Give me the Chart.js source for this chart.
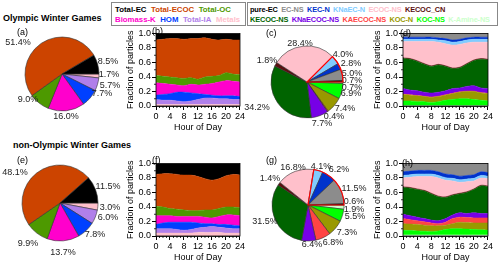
<!DOCTYPE html>
<html>
<head>
<meta charset="utf-8">
<script src="https://cdn.jsdelivr.net/npm/chart.js@4.4.1/dist/chart.umd.min.js"></script>
<style>
  body { margin: 0; width: 500px; height: 267px; position: relative; overflow: hidden; background: #fff;
         font-family: "Liberation Sans", Arial, sans-serif; }
  canvas { position: absolute; }
  .txt { position: absolute; white-space: nowrap; color: #000; }
  .head { font-weight: bold; font-size: 9px; }
  .tag { font-size: 9px; }
  .legend { position: absolute; border: 1px solid #888; background: #fff; font-weight: bold; font-size: 7.8px;
            box-sizing: border-box; padding: 2px 3px; line-height: 9.6px; }
  .legend .row { display: flex; gap: 4.5px; white-space: nowrap; }
  #legClasses { font-size: 7.4px; letter-spacing: -0.15px; padding: 2px 2px; }
  #legClasses .row { gap: 3.5px; }
</style>
</head>
<body>
<div class="txt head" style="left:3px;top:13px">Olympic Winter Games</div>
<div class="txt head" style="left:13px;top:140px">non-Olympic Winter Games</div>
<div class="legend" id="legGroups" style="left:111px;top:2px;width:135px;height:24px"></div>
<div class="legend" id="legClasses" style="left:247px;top:2px;width:251px;height:24px"></div>

<canvas id="pieA"></canvas>
<canvas id="pieE"></canvas>
<canvas id="pieC"></canvas>
<canvas id="pieG"></canvas>
<canvas id="areaB"></canvas>
<canvas id="areaF"></canvas>
<canvas id="areaD"></canvas>
<canvas id="areaH"></canvas>

<div class="txt tag" style="left:17px;top:27px">(a)</div>
<div class="txt tag" style="left:152px;top:26px">(b)</div>
<div class="txt tag" style="left:266px;top:28px">(c)</div>
<div class="txt tag" style="left:400px;top:28px">(d)</div>
<div class="txt tag" style="left:17px;top:155px">(e)</div>
<div class="txt tag" style="left:152px;top:155px">(f)</div>
<div class="txt tag" style="left:266px;top:155px">(g)</div>
<div class="txt tag" style="left:402px;top:158px">(h)</div>

<script>
// particle groups (legend order = counter-clockwise from 3 o'clock in the pies)
const groupNames = ['Total-EC', 'Total-ECOC', 'Total-OC', 'Biomass-K', 'HOM', 'Total-IA', 'Metals'];
const groupColors = ['#000000', '#cc4400', '#4d9900', '#ff00cc', '#0040ff', '#b07fea', '#ffc0cb'];

// particle classes
const classNames = ['pure-EC', 'EC-NS', 'KEC-N', 'KNaEC-N', 'ECOC-NS', 'KECOC_CN',
                    'KECOC-NS', 'KNaECOC-NS', 'KAECOC-NS', 'KOC-N', 'KOC-NS', 'K-Amine-NS'];
const classColors = ['#000000', '#8c8c8c', '#0033cc', '#80ccff', '#ffc0cb', '#5c0f0f',
                     '#006400', '#7700e6', '#ff4444', '#999900', '#00ff00', '#ccffcc'];

// pie percentages
const groupPieOlympic = [8.5, 51.4, 9.0, 16.0, 7.7, 5.7, 1.7];
const groupPieNonOlympic = [11.5, 48.1, 9.9, 13.7, 7.8, 6.0, 3.0];
const classPieOlympic = [0.7, 5.0, 2.8, 4.0, 28.4, 1.8, 34.2, 7.7, 0.4, 7.4, 6.9, 0.7];
const classPieNonOlympic = [0.6, 11.5, 6.2, 4.1, 16.8, 1.4, 31.5, 6.4, 6.8, 7.3, 5.5, 1.9];

// hour of day
const hours = [0, 2, 4, 6, 8, 10, 12, 14, 16, 18, 20, 22, 24];

// diurnal fractions, one row per group (same order as groupNames)
const groupDiurnalOlympic = [
  [0.09, 0.08, 0.07, 0.07, 0.08, 0.07, 0.07, 0.06, 0.08, 0.09, 0.08, 0.09, 0.09], // Total-EC
  [0.49, 0.51, 0.53, 0.54, 0.54, 0.54, 0.56, 0.54, 0.51, 0.49, 0.46, 0.47, 0.48], // Total-ECOC
  [0.10, 0.10, 0.10, 0.10, 0.10, 0.09, 0.08, 0.10, 0.10, 0.09, 0.11, 0.10, 0.10], // Total-OC
  [0.17, 0.15, 0.13, 0.10, 0.09, 0.12, 0.12, 0.14, 0.16, 0.19, 0.21, 0.20, 0.20], // Biomass-K
  [0.06, 0.08, 0.09, 0.12, 0.13, 0.11, 0.08, 0.05, 0.04, 0.04, 0.04, 0.05, 0.04], // HOM
  [0.07, 0.06, 0.06, 0.05, 0.04, 0.05, 0.07, 0.09, 0.09, 0.08, 0.08, 0.07, 0.07], // Total-IA
  [0.02, 0.02, 0.02, 0.02, 0.02, 0.02, 0.02, 0.02, 0.02, 0.02, 0.02, 0.02, 0.02]  // Metals
];
const groupDiurnalNonOlympic = [
  [0.15, 0.14, 0.14, 0.15, 0.16, 0.16, 0.18, 0.21, 0.23, 0.21, 0.17, 0.15, 0.16],
  [0.44, 0.46, 0.48, 0.48, 0.48, 0.49, 0.47, 0.43, 0.41, 0.41, 0.43, 0.45, 0.45],
  [0.13, 0.12, 0.10, 0.10, 0.09, 0.08, 0.08, 0.10, 0.11, 0.11, 0.11, 0.11, 0.11],
  [0.12, 0.10, 0.09, 0.08, 0.08, 0.08, 0.09, 0.09, 0.08, 0.11, 0.13, 0.14, 0.14],
  [0.06, 0.08, 0.09, 0.10, 0.11, 0.10, 0.07, 0.05, 0.04, 0.04, 0.05, 0.05, 0.04],
  [0.06, 0.06, 0.06, 0.05, 0.04, 0.05, 0.06, 0.07, 0.08, 0.07, 0.07, 0.06, 0.06],
  [0.04, 0.04, 0.04, 0.04, 0.04, 0.04, 0.05, 0.05, 0.05, 0.05, 0.04, 0.04, 0.04]
];

// diurnal fractions, one row per class (same order as classNames)
const classDiurnalOlympic = [
  [0.005, 0.005, 0.005, 0.005, 0.005, 0.005, 0.005, 0.005, 0.005, 0.005, 0.005, 0.005, 0.005],
  [0.045, 0.045, 0.045, 0.045, 0.045, 0.055, 0.065, 0.085, 0.075, 0.055, 0.045, 0.045, 0.045],
  [0.03, 0.03, 0.03, 0.03, 0.03, 0.03, 0.03, 0.03, 0.03, 0.03, 0.03, 0.03, 0.03],
  [0.03, 0.03, 0.03, 0.03, 0.03, 0.03, 0.04, 0.04, 0.04, 0.04, 0.04, 0.04, 0.04],
  [0.225, 0.235, 0.265, 0.305, 0.335, 0.305, 0.305, 0.315, 0.315, 0.285, 0.245, 0.225, 0.235],
  [0.01, 0.01, 0.01, 0.01, 0.01, 0.01, 0.01, 0.01, 0.01, 0.01, 0.01, 0.01, 0.01],
  [0.415, 0.425, 0.405, 0.385, 0.365, 0.375, 0.335, 0.275, 0.275, 0.305, 0.345, 0.395, 0.395],
  [0.075, 0.065, 0.065, 0.055, 0.055, 0.055, 0.055, 0.065, 0.055, 0.065, 0.075, 0.065, 0.065],
  [0.005, 0.005, 0.005, 0.005, 0.005, 0.005, 0.005, 0.005, 0.005, 0.005, 0.005, 0.005, 0.005],
  [0.09, 0.08, 0.08, 0.07, 0.07, 0.07, 0.07, 0.08, 0.09, 0.10, 0.11, 0.10, 0.10],
  [0.065, 0.065, 0.055, 0.055, 0.045, 0.055, 0.075, 0.085, 0.095, 0.095, 0.085, 0.075, 0.065],
  [0.005, 0.005, 0.005, 0.005, 0.005, 0.005, 0.005, 0.005, 0.005, 0.005, 0.005, 0.005, 0.005]
];
const classDiurnalNonOlympic = [
  [0.005, 0.005, 0.005, 0.005, 0.005, 0.005, 0.005, 0.005, 0.005, 0.005, 0.005, 0.005, 0.005],
  [0.11, 0.10, 0.09, 0.09, 0.09, 0.11, 0.14, 0.15, 0.17, 0.16, 0.15, 0.11, 0.12],
  [0.05, 0.05, 0.05, 0.05, 0.05, 0.05, 0.05, 0.05, 0.05, 0.05, 0.05, 0.05, 0.05],
  [0.035, 0.035, 0.035, 0.035, 0.035, 0.035, 0.035, 0.035, 0.035, 0.035, 0.035, 0.035, 0.035],
  [0.12, 0.14, 0.17, 0.19, 0.23, 0.25, 0.23, 0.19, 0.15, 0.14, 0.11, 0.10, 0.10],
  [0.01, 0.01, 0.01, 0.01, 0.01, 0.01, 0.01, 0.01, 0.01, 0.01, 0.01, 0.01, 0.01],
  [0.37, 0.38, 0.38, 0.38, 0.36, 0.33, 0.29, 0.27, 0.26, 0.29, 0.32, 0.38, 0.37],
  [0.06, 0.055, 0.05, 0.045, 0.04, 0.04, 0.05, 0.05, 0.06, 0.055, 0.07, 0.06, 0.06],
  [0.07, 0.06, 0.05, 0.045, 0.04, 0.03, 0.04, 0.07, 0.07, 0.07, 0.07, 0.07, 0.07],
  [0.09, 0.09, 0.09, 0.085, 0.08, 0.07, 0.06, 0.07, 0.09, 0.09, 0.09, 0.095, 0.10],
  [0.065, 0.06, 0.055, 0.05, 0.045, 0.055, 0.075, 0.085, 0.085, 0.08, 0.075, 0.07, 0.065],
  [0.015, 0.015, 0.015, 0.015, 0.015, 0.015, 0.015, 0.015, 0.015, 0.015, 0.015, 0.015, 0.015]
];

// where the % labels sit, relative to the pie centre (px), same order as the data
const labelPosA = [[46, -12], [-44, -31], [-34, 26], [4, 43], [40, 20], [48, 12], [47, 1]];
const labelPosE = [[48, -16], [-45, -30], [-32, 41], [3, 50], [35, 32], [48, 15], [50, 5]];
const labelPosC = [[45, -1], [45, -8], [44, -18], [36, -27], [-7, -38], [-40, -21],
                   [-50, 26], [15, 42], [27, 35], [38, 27], [44, 12], [45, 6]];
const labelPosG = [[46, -3], [46, -16], [31, -35], [13, -38], [-15, -37], [-38, -26],
                   [-43, 17], [4, 40], [25, 38], [39, 28], [47, 12], [46, 5]];

Chart.defaults.font.family = '"Liberation Sans", Arial, sans-serif';
Chart.defaults.color = '#000';

function place(id, left, top, w, h) {
  const c = document.getElementById(id);
  c.width = w;
  c.height = h;
  c.style.left = left + 'px';
  c.style.top = top + 'px';
  return c;
}

function buildLegend(id, names, colors, split) {
  const box = document.getElementById(id);
  [names.slice(0, split), names.slice(split)].forEach((row, r) => {
    const div = document.createElement('div');
    div.className = 'row';
    row.forEach((n, i) => {
      const s = document.createElement('span');
      s.textContent = n;
      s.style.color = colors[r ? split + i : i];
      div.appendChild(s);
    });
    box.appendChild(div);
  });
}
buildLegend('legGroups', groupNames, groupColors, 3);
buildLegend('legClasses', classNames, classColors, 6);

// percentage labels next to each slice
const pieLabels = {
  id: 'pieLabels',
  afterDatasetsDraw(chart, args, opts) {
    const ctx = chart.ctx;
    const arcs = chart.getDatasetMeta(0).data;
    const vals = chart.data.datasets[0].data;
    ctx.save();
    ctx.font = '9px "Liberation Sans", Arial, sans-serif';
    ctx.fillStyle = '#222';
    ctx.textAlign = 'center';
    ctx.textBaseline = 'middle';
    arcs.forEach((arc, i) => {
      const p = opts.pos[i];
      ctx.fillText(vals[i].toFixed(1) + '%', arc.x + p[0], arc.y + p[1]);
    });
    // red outline round the EC-only classes
    if (opts.outline) {
      const n = arcs.length;
      const first = arcs[n - opts.outline];
      const last = arcs[n - 1];
      ctx.beginPath();
      ctx.moveTo(first.x, first.y);
      ctx.arc(first.x, first.y, first.outerRadius, first.startAngle, last.endAngle);
      ctx.closePath();
      ctx.strokeStyle = '#ff0000';
      ctx.lineWidth = 1.2;
      ctx.stroke();
    }
    ctx.restore();
  }
};

function pieChart(id, cx, cy, r, values, names, colors, pos, outline) {
  const canvas = place(id, cx - 66, cy - 56, 132, 112);
  // pies are drawn clockwise, the figure runs counter-clockwise from 3 o'clock
  const idx = values.map((v, i) => i).reverse();
  new Chart(canvas, {
    type: 'pie',
    data: {
      labels: idx.map(i => names[i]),
      datasets: [{
        data: idx.map(i => values[i]),
        backgroundColor: idx.map(i => colors[i]),
        borderColor: '#333',
        borderWidth: 0.6
      }]
    },
    options: {
      responsive: false,
      animation: false,
      rotation: 90,
      radius: r,
      layout: { padding: 0 },
      plugins: {
        legend: { display: false },
        tooltip: { enabled: false },
        pieLabels: { pos: idx.map(i => pos[i]), outline: outline }
      }
    },
    plugins: [pieLabels]
  });
}

// box round the plot plus short minor ticks (every hour / every 0.1)
const frame = {
  id: 'frame',
  afterDatasetsDraw(chart) {
    const { ctx, chartArea: a, scales } = chart;
    ctx.save();
    ctx.strokeStyle = '#000';
    ctx.lineWidth = 0.8;
    ctx.strokeRect(a.left, a.top, a.right - a.left, a.bottom - a.top);
    ctx.beginPath();
    for (let h = 1; h < 24; h++) {
      if (h % 4 === 0) continue;
      const x = scales.x.getPixelForValue(h);
      ctx.moveTo(x, a.bottom);
      ctx.lineTo(x, a.bottom + 2);
    }
    for (let k = 1; k < 10; k += 2) {
      const y = scales.y.getPixelForValue(k / 10);
      ctx.moveTo(a.left, y);
      ctx.lineTo(a.left - 2, y);
    }
    ctx.stroke();
    ctx.restore();
  }
};

function areaChart(id, left, top, width, series, names, colors) {
  const canvas = place(id, left, top, width, 108);
  // stack from the bottom: last legend entry first
  const idx = series.map((s, i) => i).reverse();
  new Chart(canvas, {
    type: 'line',
    data: {
      datasets: idx.map((k, j) => ({
        label: names[k],
        data: hours.map((h, n) => ({ x: h, y: series[k][n] })),
        backgroundColor: colors[k],
        borderColor: colors[k],
        borderWidth: 0.5,
        pointRadius: 0,
        tension: 0.3,
        fill: j === 0 ? 'origin' : '-1'
      }))
    },
    options: {
      responsive: false,
      animation: false,
      layout: { padding: { left: 0, right: 5, top: 7.5, bottom: 0 } },
      plugins: { legend: { display: false }, tooltip: { enabled: false } },
      scales: {
        x: {
          type: 'linear',
          min: 0,
          max: 24,
          afterFit: s => { s.height = 28; },
          grid: { drawOnChartArea: false, tickLength: 4, tickColor: '#000' },
          border: { color: '#000', width: 0.8 },
          ticks: { stepSize: 4, maxRotation: 0, padding: 1, font: { size: 9 } },
          title: { display: true, text: 'Hour of Day', font: { size: 9 }, padding: { top: 0, bottom: 1 } }
        },
        y: {
          stacked: true,
          min: 0,
          max: 1,
          afterFit: s => { s.width = 34; },
          grid: { drawOnChartArea: false, tickLength: 4, tickColor: '#000' },
          border: { color: '#000', width: 0.8 },
          ticks: { stepSize: 0.2, padding: 1, font: { size: 9 }, callback: v => v.toFixed(1) },
          title: { display: true, text: 'Fraction of particles', font: { size: 9 }, padding: { top: 3, bottom: 0 } }
        }
      }
    },
    plugins: [frame]
  });
}

pieChart('pieA', 62, 74, 37, groupPieOlympic, groupNames, groupColors, labelPosA, 0);
pieChart('pieE', 60, 203, 38, groupPieNonOlympic, groupNames, groupColors, labelPosE, 0);
pieChart('pieC', 307, 81.5, 36, classPieOlympic, classNames, classColors, labelPosC, 4);
pieChart('pieG', 307.5, 204.5, 36, classPieNonOlympic, classNames, classColors, labelPosG, 4);

areaChart('areaB', 122, 26, 124, groupDiurnalOlympic, groupNames, groupColors);
areaChart('areaF', 122, 156, 124, groupDiurnalNonOlympic, groupNames, groupColors);
areaChart('areaD', 369, 26, 125, classDiurnalOlympic, classNames, classColors);
areaChart('areaH', 369, 156, 125, classDiurnalNonOlympic, classNames, classColors);
</script>
</body>
</html>
